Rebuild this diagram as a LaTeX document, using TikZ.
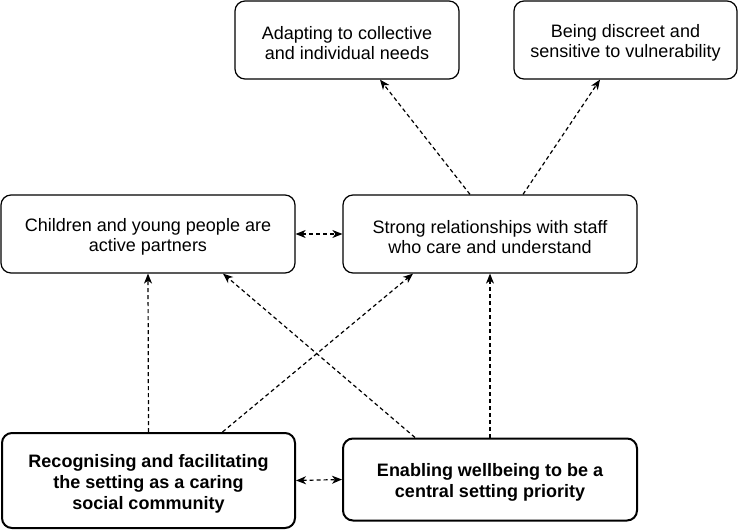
\documentclass[tikz,border=0pt]{standalone}
\usepackage{fontspec}
\setmainfont{Liberation Sans}
\usetikzlibrary{arrows.meta}
\newcommand\tp{\rule{0pt}{19pt}}
\begin{document}
\begin{tikzpicture}[x=1pt,y=-1pt,
  box/.style={draw, line width=1.2pt, rounded corners=10pt, inner sep=0pt, align=center,
    font=\fontsize{18}{20.5}\selectfont},
  boldbox/.style={box, line width=2pt, font=\fontsize{18}{21}\selectfont\bfseries},
  link/.style={line width=1.2pt, dash pattern=on 4pt off 3pt, -{Stealth[length=10pt,width=8pt,inset=3pt]}},
  blink/.style={link, {Stealth[length=10pt,width=8pt,inset=3pt]}-{Stealth[length=10pt,width=8pt,inset=3pt]}}
]
\useasboundingbox (0,0) rectangle (744,530);
\node[box, minimum width=224pt, minimum height=78pt] (adapt) at (347,40) {\tp Adapting to collective\\and individual needs};
\node[box, minimum width=223pt, minimum height=78pt] (discreet) at (625.5,40) {\tp Being discreet and\\sensitive to vulnerability};
\node[box, minimum width=294pt, minimum height=78pt] (children) at (148,234) {\tp Children and young people are\\active partners};
\node[box, minimum width=294pt, minimum height=78pt] (strong) at (490,234) {\tp Strong relationships with staff\\who care and understand};
\node[boldbox, minimum width=293pt, minimum height=95pt] (recog) at (148.5,480.5) {\tp Recognising and facilitating\\the setting as a caring\\social community};
\node[boldbox, minimum width=294pt, minimum height=82pt] (enable) at (490,479.5) {\tp Enabling wellbeing to be a\\central setting priority};

\draw[blink] (children.east) -- (strong.west);
\draw[blink] (recog.east) -- (enable.west);
\draw[link] (recog.north) -- (children.south);
\draw[link] (enable.north) -- (strong.south);
\draw[link] ([xshift=74pt]recog.north) -- ([xshift=-77pt]strong.south);
\draw[link] ([xshift=-75pt]enable.north) -- ([xshift=75pt]children.south);
\draw[link] ([xshift=-20pt]strong.north) -- ([xshift=33pt]adapt.south);
\draw[link] ([xshift=33pt]strong.north) -- ([xshift=-25.5pt]discreet.south);
\end{tikzpicture}
\end{document}
